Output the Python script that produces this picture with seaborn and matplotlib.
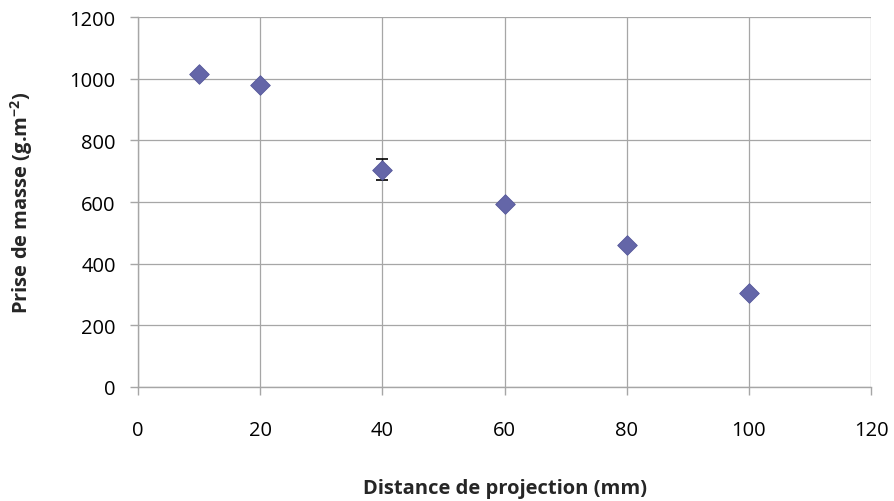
import matplotlib
matplotlib.use("Agg")
import matplotlib.pyplot as plt
import seaborn as sns
import pandas as pd
import numpy as np

distance = [10, 20, 40, 60, 80, 100]
prise_masse = [1015, 980, 705, 594, 462, 304]
erreur = [0, 0, 33, 0, 0, 0]

x_ticks = [0, 20, 40, 60, 80, 100, 120]
y_ticks = [0, 200, 400, 600, 800, 1000, 1200]

sns.set_style("white")
plt.rcParams['font.family'] = ['Open Sans', 'DejaVu Sans']
plt.rcParams['mathtext.fontset'] = 'custom'
plt.rcParams['mathtext.rm'] = 'Open Sans'
plt.rcParams['mathtext.bf'] = 'Open Sans:bold'

df = pd.DataFrame({"distance": distance, "prise": prise_masse, "err": erreur})

fig = plt.figure(figsize=(8.95, 5.02), dpi=100)
ax = fig.add_axes([0.1542, 0.2271, 0.819, 0.737])

sub = df[df["err"] > 0]
ax.errorbar(sub["distance"], sub["prise"], yerr=sub["err"], fmt="none",
            ecolor="black", elinewidth=1.0, capsize=4, capthick=1.2, zorder=2)
sns.scatterplot(data=df, x="distance", y="prise", marker="D", s=100,
                color="#6466A8", edgecolor="#55589A", linewidth=0.6, ax=ax, zorder=3)

ax.set_xlim(0, 120)
ax.set_ylim(0, 1200)
ax.set_xticks(x_ticks)
ax.set_yticks(y_ticks)
ax.set_xticklabels([str(v) for v in x_ticks])
ax.set_yticklabels([str(v) for v in y_ticks])
ax.grid(True, color="#A6A6A6", linewidth=0.9)
ax.set_axisbelow(True)
for s in ["top", "right"]:
    ax.spines[s].set_visible(False)
for s in ["left", "bottom"]:
    ax.spines[s].set_color("#A6A6A6")
    ax.spines[s].set_linewidth(1.0)
ax.tick_params(axis="both", which="major", length=6, width=1.0, color="#A6A6A6",
               labelsize=14.5, labelcolor="black", direction="out",
               bottom=True, left=True)
ax.tick_params(axis="x", pad=18)
ax.tick_params(axis="y", pad=10)

ax.set_xlabel("Distance de projection (mm)", fontsize=14.5, fontweight="bold")
ax.set_ylabel(r"Prise de masse (g.m$^{\mathbf{-2}}$)", fontsize=14.5, fontweight="bold")
ax.xaxis.set_label_coords(0.5, -0.245)
ax.yaxis.set_label_coords(-0.14, 0.5)

fig.savefig("out.png", dpi=100)
